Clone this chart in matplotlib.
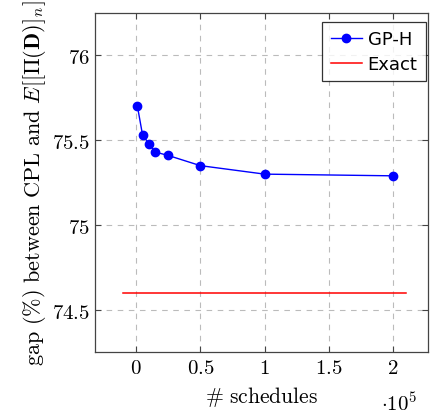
import matplotlib
matplotlib.use("Agg")
import matplotlib.pyplot as plt
from matplotlib.ticker import FixedLocator

plt.rcParams['mathtext.fontset'] = 'cm'

# -----------------
# Data
# -----------------
schedules = [1000, 5000, 10000, 15000, 25000, 50000, 100000, 200000]
gap_gph = [75.70, 75.53, 75.48, 75.43, 75.41, 75.35, 75.30, 75.29]
exact_x = [-10000, 210000]
exact_gap = [74.60, 74.60]

xticks = [0, 0.5, 1, 1.5, 2]
xtick_labels = ['0', '0.5', '1', '1.5', '2']
yticks = [74.5, 75, 75.5, 76]
ytick_labels = ['74.5', '75', '75.5', '76']

# -----------------
# Plot
# -----------------
fig = plt.figure(figsize=(4.3, 4.14), dpi=100)
ax = fig.add_axes([0.221, 0.147, 0.774, 0.819])

ax.plot([x / 1e5 for x in schedules], gap_gph, color='blue', marker='o',
        markersize=6, linewidth=1, label='GP-H')
ax.plot([x / 1e5 for x in exact_x], exact_gap, color='#ff0000', linewidth=1.1,
        label='Exact')

ax.set_xlim(-0.32, 2.27)
ax.set_ylim(74.25, 76.25)
ax.xaxis.set_major_locator(FixedLocator(xticks))
ax.yaxis.set_major_locator(FixedLocator(yticks))
ax.set_xticklabels(['$' + t + '$' for t in xtick_labels], fontsize=15)
ax.set_yticklabels(['$' + t + '$' for t in ytick_labels], fontsize=15)
ax.tick_params(direction='in', top=True, right=True, length=4, color='#444444')
for s in ax.spines.values():
    s.set_color('#444444')
    s.set_linewidth(0.9)

ax.grid(True, linestyle=(0, (5, 5)), color='#bbbbbb', linewidth=0.8)

ax.set_xlabel(r'$\#\ \mathrm{schedules}$', fontsize=15.5, labelpad=5)
ax.set_ylabel(r'$\mathrm{gap\ (\%)\ between\ CPL\ and\ }E[[\Pi(\mathbf{D})]_n]$',
              fontsize=16, labelpad=3)
fig.text(0.971, 0.006, r'$\cdot 10^5$', fontsize=15, ha='right', va='baseline')

leg = ax.legend(loc='upper right', bbox_to_anchor=(0.993, 0.973), fontsize=13,
                frameon=True, fancybox=False, edgecolor='black',
                handlelength=1.75, handletextpad=0.3, borderpad=0.45,
                labelspacing=0.38, borderaxespad=0)
leg.get_frame().set_linewidth(0.9)

fig.savefig('out.png', dpi=100)
